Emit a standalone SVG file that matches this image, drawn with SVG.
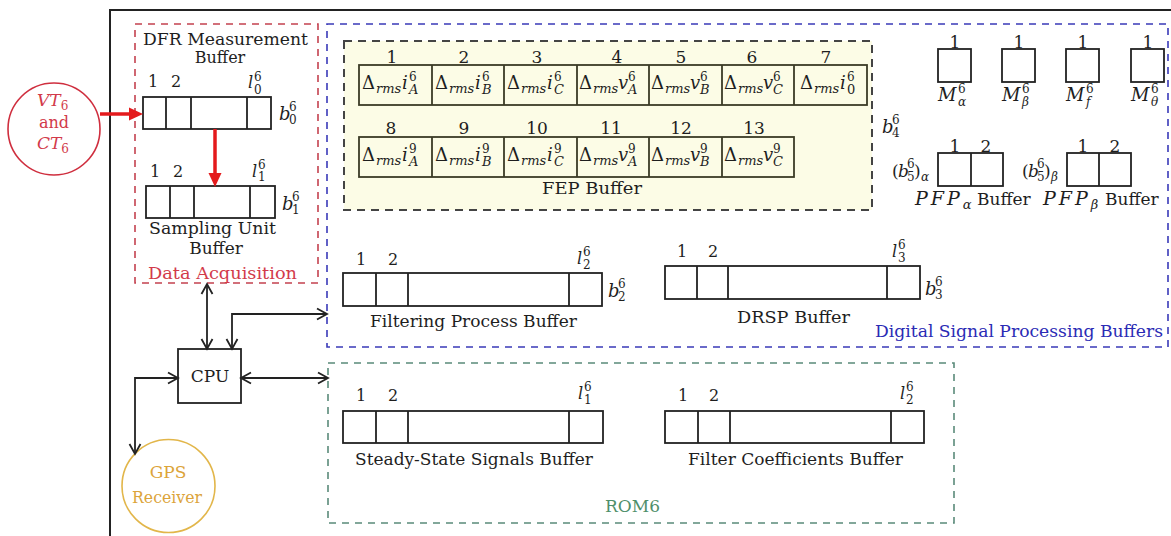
<svg xmlns="http://www.w3.org/2000/svg" width="1171" height="536" viewBox="0 0 1171 536" font-family="'DejaVu Serif', 'Liberation Serif', serif">
<defs>
<style>
.t{font-family:'DejaVu Serif','Liberation Serif',serif;fill:#1e1e1e;font-size:17px}
.it{font-style:italic}
.up{font-style:normal}
.n{font-size:16px}
.s{font-size:12px}
.ss{font-size:13px}
.m{font-size:18px}
.mid{text-anchor:middle}
.red{fill:#d23a4a}
.blue{fill:#2b2bb5}
.green{fill:#4f8f6a}
.gold{fill:#dca43a}
.box{fill:none;stroke:#222;stroke-width:1.8}
.cell{fill:none;stroke:#3b3b26;stroke-width:1.8}
.conn{fill:none;stroke:#222;stroke-width:1.8}
.rconn{fill:none;stroke:#e41a1c;stroke-width:3.5}
.dash{fill:none;stroke-width:1.6;stroke-dasharray:7 6}
</style>
<marker id="oa" markerUnits="userSpaceOnUse" orient="auto-start-reverse" overflow="visible" viewBox="-12 -7 14 14" markerWidth="14" markerHeight="14" refX="0" refY="0">
<path d="M-10,-5.5 L0,0 L-10,5.5" fill="none" stroke="#222" stroke-width="1.8"/>
</marker>
<marker id="ra" markerUnits="userSpaceOnUse" orient="auto" overflow="visible" viewBox="-4 -8 16 16" markerWidth="16" markerHeight="16" refX="0" refY="0">
<path d="M-3,-6.5 L11,0 L-3,6.5 Z" fill="#e41a1c"/>
</marker>
</defs>
<rect x="0" y="0" width="1171" height="536" fill="#ffffff"/>
<rect id="frame" x="110" y="10" width="1100" height="560" fill="none" stroke="#222" stroke-width="2"/>

<g id="data-acquisition">
<rect class="dash" x="135" y="24" width="183" height="259" stroke="#c4414f"/>
<text class="t" x="143" y="44.5" style="font-size:16px" textLength="165" lengthAdjust="spacingAndGlyphs">DFR Measurement</text>
<text class="t mid" x="220" y="63" style="font-size:16px">Buffer</text>
<text class="t red" x="148" y="279" textLength="149" lengthAdjust="spacingAndGlyphs">Data Acquisition</text>
</g>
<g id="dfr-buffer">
<rect class="box" x="143" y="97" width="128" height="32"/>
<path class="box" d="M166,97V129M191,97V129M247,97V129"/>
<text class="t n" x="148" y="87">1</text>
<text class="t n" x="171" y="87">2</text>
<text class="t n it" x="248" y="88">l<tspan class="s up" x="254" y="81">6</tspan><tspan class="s up" x="254" y="94">0</tspan></text>
<text class="t m it" x="279" y="120">b<tspan class="s up" x="289" y="111">6</tspan><tspan class="s up" x="289" y="124">0</tspan></text>
</g>
<g id="sampling-buffer">
<rect class="box" x="146" y="186" width="129" height="32"/>
<path class="box" d="M170,186V218M194,186V218M250,186V218"/>
<text class="t n" x="150" y="177">1</text>
<text class="t n" x="173" y="177">2</text>
<text class="t n it" x="252" y="177">l<tspan class="s up" x="258" y="169">6</tspan><tspan class="s up" x="258" y="181">1</tspan></text>
<text class="t m it" x="282" y="210">b<tspan class="s up" x="292" y="201">6</tspan><tspan class="s up" x="292" y="214">1</tspan></text>
<text class="t" x="149" y="234" textLength="127" lengthAdjust="spacingAndGlyphs">Sampling Unit</text>
<text class="t mid" x="216" y="254">Buffer</text>
</g>

<g id="vt-ct">
<circle cx="54" cy="129" r="46" fill="none" stroke="#cf2e3e" stroke-width="1.6"/>
<text class="t red" x="37" y="106"><tspan class="it">VT</tspan><tspan class="s" dy="4">6</tspan></text>
<text class="t red mid" x="54" y="128" style="font-size:16px">and</text>
<text class="t red" x="37" y="149"><tspan class="it">CT</tspan><tspan class="s" dy="4">6</tspan></text>
</g>

<g id="dsp">
<rect class="dash" x="327" y="24" width="841" height="323" stroke="#3a3ab8"/>
<text class="t blue" x="875" y="337" textLength="288" lengthAdjust="spacingAndGlyphs">Digital Signal Processing Buffers</text>
</g>

<g id="fep-buffer">
<rect x="344" y="41" width="528" height="169" fill="#fcfce6" stroke="#444" stroke-width="2" stroke-dasharray="8 6"/>
<rect class="cell" x="359" y="65" width="508" height="40"/>
<path class="cell" d="M432,65V105M504,65V105M577,65V105M649,65V105M722,65V105M794,65V105"/>
<rect class="cell" x="359" y="137" width="435" height="40"/>
<path class="cell" d="M432,137V177M504,137V177M577,137V177M649,137V177M722,137V177"/>
<text class="t mid" x="392" y="63">1</text><text class="t mid" x="464" y="63">2</text><text class="t mid" x="537" y="63">3</text><text class="t mid" x="617" y="63">4</text><text class="t mid" x="681" y="63">5</text><text class="t mid" x="752" y="63">6</text><text class="t mid" x="826" y="63">7</text>
<text class="t mid" x="391" y="134">8</text><text class="t mid" x="464" y="134">9</text><text class="t mid" x="537" y="134">10</text><text class="t mid" x="611" y="134">11</text><text class="t mid" x="681" y="134">12</text><text class="t mid" x="754" y="134">13</text>
<g transform="translate(359,65)"><text class="t m" x="3" y="24">Δ<tspan class="ss it" x="17" y="28">rms</tspan><tspan class="it" x="43" y="24">i</tspan><tspan class="s" x="50" y="16">6</tspan><tspan class="ss it" x="50" y="29">A</tspan></text></g>
<g transform="translate(432,65)"><text class="t m" x="3" y="24">Δ<tspan class="ss it" x="17" y="28">rms</tspan><tspan class="it" x="43" y="24">i</tspan><tspan class="s" x="50" y="16">6</tspan><tspan class="ss it" x="50" y="29">B</tspan></text></g>
<g transform="translate(504,65)"><text class="t m" x="3" y="24">Δ<tspan class="ss it" x="17" y="28">rms</tspan><tspan class="it" x="43" y="24">i</tspan><tspan class="s" x="50" y="16">6</tspan><tspan class="ss it" x="50" y="29">C</tspan></text></g>
<g transform="translate(577,65)"><text class="t m" x="2" y="24">Δ<tspan class="ss it" x="16" y="28">rms</tspan><tspan class="it" x="41" y="24">v</tspan><tspan class="s" x="51" y="16">6</tspan><tspan class="ss it" x="51" y="29">A</tspan></text></g>
<g transform="translate(649,65)"><text class="t m" x="2" y="24">Δ<tspan class="ss it" x="16" y="28">rms</tspan><tspan class="it" x="41" y="24">v</tspan><tspan class="s" x="51" y="16">6</tspan><tspan class="ss it" x="51" y="29">B</tspan></text></g>
<g transform="translate(722,65)"><text class="t m" x="2" y="24">Δ<tspan class="ss it" x="16" y="28">rms</tspan><tspan class="it" x="41" y="24">v</tspan><tspan class="s" x="51" y="16">6</tspan><tspan class="ss it" x="51" y="29">C</tspan></text></g>
<g transform="translate(794,65)"><text class="t m" x="6" y="24">Δ<tspan class="ss it" x="20" y="28">rms</tspan><tspan class="it" x="46" y="24">i</tspan><tspan class="s" x="53" y="16">6</tspan><tspan class="ss" x="53" y="29">0</tspan></text></g>
<g transform="translate(359,137)"><text class="t m" x="3" y="24">Δ<tspan class="ss it" x="17" y="28">rms</tspan><tspan class="it" x="43" y="24">i</tspan><tspan class="s" x="50" y="16">9</tspan><tspan class="ss it" x="50" y="29">A</tspan></text></g>
<g transform="translate(432,137)"><text class="t m" x="3" y="24">Δ<tspan class="ss it" x="17" y="28">rms</tspan><tspan class="it" x="43" y="24">i</tspan><tspan class="s" x="50" y="16">9</tspan><tspan class="ss it" x="50" y="29">B</tspan></text></g>
<g transform="translate(504,137)"><text class="t m" x="3" y="24">Δ<tspan class="ss it" x="17" y="28">rms</tspan><tspan class="it" x="43" y="24">i</tspan><tspan class="s" x="50" y="16">9</tspan><tspan class="ss it" x="50" y="29">C</tspan></text></g>
<g transform="translate(577,137)"><text class="t m" x="2" y="24">Δ<tspan class="ss it" x="16" y="28">rms</tspan><tspan class="it" x="41" y="24">v</tspan><tspan class="s" x="51" y="16">9</tspan><tspan class="ss it" x="51" y="29">A</tspan></text></g>
<g transform="translate(649,137)"><text class="t m" x="2" y="24">Δ<tspan class="ss it" x="16" y="28">rms</tspan><tspan class="it" x="41" y="24">v</tspan><tspan class="s" x="51" y="16">9</tspan><tspan class="ss it" x="51" y="29">B</tspan></text></g>
<g transform="translate(722,137)"><text class="t m" x="2" y="24">Δ<tspan class="ss it" x="16" y="28">rms</tspan><tspan class="it" x="41" y="24">v</tspan><tspan class="s" x="51" y="16">9</tspan><tspan class="ss it" x="51" y="29">C</tspan></text></g>
<text class="t" x="542" y="194" textLength="100" lengthAdjust="spacingAndGlyphs">FEP Buffer</text>
<text class="t m it" x="882" y="133">b<tspan class="s up" x="892" y="124">6</tspan><tspan class="s up" x="892" y="137">4</tspan></text>
</g>

<g id="m-alpha">
<rect class="box" x="938" y="49" width="33" height="33"/>
<text class="t mid" x="955" y="48">1</text>
<text class="t m it" x="938" y="101">M<tspan class="s up" x="958" y="93">6</tspan><tspan class="s" x="958" y="106">α</tspan></text>
</g>
<g id="m-beta">
<rect class="box" x="1002" y="49" width="33" height="33"/>
<text class="t mid" x="1019" y="48">1</text>
<text class="t m it" x="1002" y="101">M<tspan class="s up" x="1022" y="93">6</tspan><tspan class="s" x="1022" y="106">β</tspan></text>
</g>
<g id="m-f">
<rect class="box" x="1066" y="49" width="33" height="33"/>
<text class="t mid" x="1083" y="48">1</text>
<text class="t m it" x="1066" y="101">M<tspan class="s up" x="1086" y="93">6</tspan><tspan class="s" x="1086" y="106">f</tspan></text>
</g>
<g id="m-theta">
<rect class="box" x="1131" y="49" width="33" height="33"/>
<text class="t mid" x="1148" y="48">1</text>
<text class="t m it" x="1131" y="101">M<tspan class="s up" x="1151" y="93">6</tspan><tspan class="s" x="1151" y="106">θ</tspan></text>
</g>

<g id="pfp-alpha">
<rect class="box" x="938" y="153" width="65" height="33"/>
<path class="box" d="M971,153V186"/>
<text class="t mid" x="955" y="152">1</text>
<text class="t mid" x="986" y="152">2</text>
<text class="t" x="892" y="177">(<tspan class="it" x="898">b</tspan><tspan class="s" x="907" y="168">6</tspan><tspan class="s" x="907" y="181">5</tspan><tspan x="914" y="177">)</tspan><tspan class="s it" x="921" y="181">α</tspan></text>
<text class="t" x="915" y="205"><tspan class="it" style="font-size:19px;letter-spacing:3px">PFP</tspan><tspan class="ss it" dy="4">α</tspan><tspan x="977" y="205">Buffer</tspan></text>
</g>
<g id="pfp-beta">
<rect class="box" x="1067" y="153" width="64" height="33"/>
<path class="box" d="M1099,153V186"/>
<text class="t mid" x="1083" y="152">1</text>
<text class="t mid" x="1115" y="152">2</text>
<text class="t" x="1022" y="177">(<tspan class="it" x="1028">b</tspan><tspan class="s" x="1037" y="168">6</tspan><tspan class="s" x="1037" y="181">5</tspan><tspan x="1044" y="177">)</tspan><tspan class="s it" x="1051" y="181">β</tspan></text>
<text class="t" x="1043" y="205"><tspan class="it" style="font-size:19px;letter-spacing:3px">PFP</tspan><tspan class="ss it" dy="4">β</tspan><tspan x="1105" y="205">Buffer</tspan></text>
</g>

<g id="filtering-buffer">
<rect class="box" x="343" y="273" width="259" height="33"/>
<path class="box" d="M376,273V306M408,273V306M569,273V306"/>
<text class="t n" x="356" y="265">1</text>
<text class="t n" x="388" y="265">2</text>
<text class="t n it" x="577" y="264">l<tspan class="s up" x="583" y="256">6</tspan><tspan class="s up" x="583" y="269">2</tspan></text>
<text class="t m it" x="608" y="297">b<tspan class="s up" x="618" y="288">6</tspan><tspan class="s up" x="618" y="301">2</tspan></text>
<text class="t" x="370" y="327" textLength="207" lengthAdjust="spacingAndGlyphs">Filtering Process Buffer</text>
</g>

<g id="drsp-buffer">
<rect class="box" x="665" y="266" width="255" height="33"/>
<path class="box" d="M697,266V299M728,266V299M887,266V299"/>
<text class="t n" x="677" y="257">1</text>
<text class="t n" x="708" y="257">2</text>
<text class="t n it" x="892" y="257">l<tspan class="s up" x="898" y="249">6</tspan><tspan class="s up" x="898" y="262">3</tspan></text>
<text class="t m it" x="925" y="295">b<tspan class="s up" x="935" y="286">6</tspan><tspan class="s up" x="935" y="299">3</tspan></text>
<text class="t" x="737" y="323" textLength="113" lengthAdjust="spacingAndGlyphs">DRSP Buffer</text>
</g>

<g id="cpu">
<rect class="box" x="178" y="349" width="63" height="54"/>
<text class="t mid" x="210" y="382">CPU</text>
</g>

<g id="rom">
<rect class="dash" x="328" y="363" width="626" height="160" stroke="#5a8a7a"/>
<text class="t green" x="605" y="512" textLength="55" lengthAdjust="spacingAndGlyphs">ROM6</text>
</g>
<g id="steady-state-buffer">
<rect class="box" x="343" y="411" width="260" height="32"/>
<path class="box" d="M376,411V443M408,411V443M569,411V443"/>
<text class="t n" x="356" y="401">1</text>
<text class="t n" x="388" y="401">2</text>
<text class="t n it" x="578" y="399">l<tspan class="s up" x="584" y="391">6</tspan><tspan class="s up" x="584" y="404">1</tspan></text>
<text class="t" x="355" y="465" textLength="238" lengthAdjust="spacingAndGlyphs">Steady-State Signals Buffer</text>
</g>
<g id="filter-coefficients-buffer">
<rect class="box" x="665" y="411" width="259" height="32"/>
<path class="box" d="M698,411V443M730,411V443M891,411V443"/>
<text class="t n" x="678" y="401">1</text>
<text class="t n" x="709" y="401">2</text>
<text class="t n it" x="900" y="399">l<tspan class="s up" x="906" y="391">6</tspan><tspan class="s up" x="906" y="404">2</tspan></text>
<text class="t" x="688" y="465" textLength="215" lengthAdjust="spacingAndGlyphs">Filter Coefficients Buffer</text>
</g>

<g id="gps">
<circle cx="168.5" cy="486" r="46.5" fill="none" stroke="#e2b64a" stroke-width="1.6"/>
<text class="t gold mid" x="168" y="478">GPS</text>
<text class="t gold mid" x="167" y="503" textLength="70" lengthAdjust="spacingAndGlyphs">Receiver</text>
</g>

<g id="connectors">
<path class="rconn" d="M100,114H132" marker-end="url(#ra)"/>
<path class="rconn" d="M215,129V176" marker-end="url(#ra)"/>
<path class="conn" d="M207,284V349" marker-start="url(#oa)" marker-end="url(#oa)"/>
<path class="conn" d="M232,349V314H327" marker-start="url(#oa)" marker-end="url(#oa)"/>
<path class="conn" d="M241,378H328" marker-start="url(#oa)" marker-end="url(#oa)"/>
<path class="conn" d="M178,378H135V454" marker-start="url(#oa)" marker-end="url(#oa)"/>
</g>
</svg>
